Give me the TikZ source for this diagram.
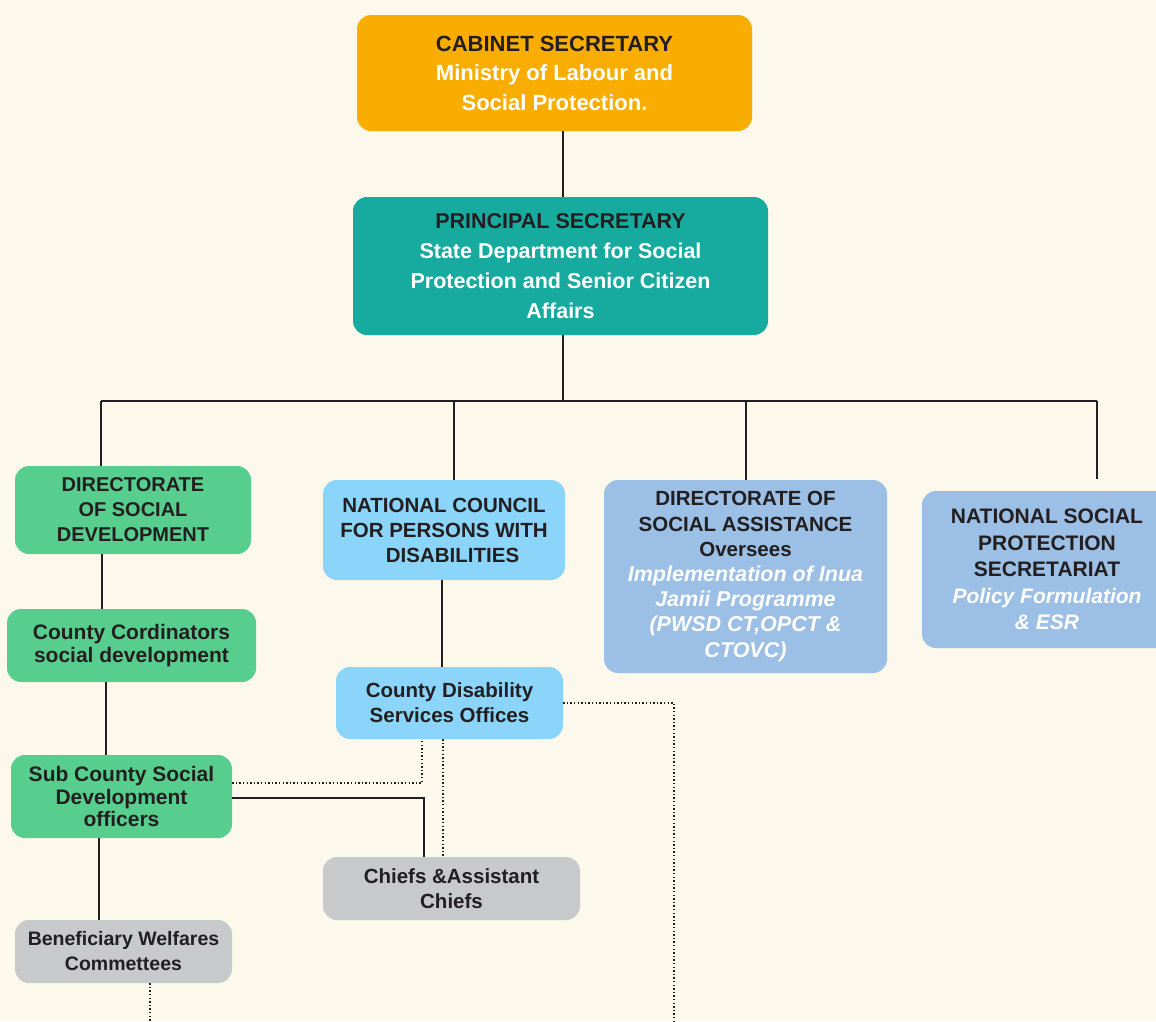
\documentclass[tikz,border=0pt]{standalone}
\usepackage{fontspec}
\setmainfont{Liberation Sans}
\definecolor{bg}{HTML}{FDF8EC}
\definecolor{ink}{HTML}{231F20}
\definecolor{orng}{HTML}{F9AD00}
\definecolor{teal}{HTML}{17AB9F}
\definecolor{grn}{HTML}{57CE8D}
\definecolor{lblue}{HTML}{8BD4FA}
\definecolor{sblue}{HTML}{9BBFE5}
\definecolor{gry}{HTML}{C8C9CB}
\begin{document}
\begin{tikzpicture}[x=1pt,y=-1pt,
  box/.style={rounded corners=14pt, inner sep=0pt, align=center, text=ink},
  conn/.style={draw=ink, line width=2pt},
  dotl/.style={draw=ink, line width=2pt, dash pattern=on 1.4pt off 2.2pt}]
\fill[bg] (0,0) rectangle (1156,1021);
\clip (0,0) rectangle (1156,1021);
% top boxes
\node[box, fill=orng, minimum width=395pt, minimum height=116pt,
  font={\bfseries\fontsize{22}{29.5}\selectfont}] (cab) at (554.5,73)
  {CABINET SECRETARY\\ \textcolor{white}{Ministry of Labour and}\\ \textcolor{white}{Social Protection.}};
\node[box, fill=teal, minimum width=415pt, minimum height=138pt,
  font={\bfseries\fontsize{21.5}{30}\selectfont}] (ps) at (560.5,266)
  {PRINCIPAL SECRETARY\\ \textcolor{white}{State Department for Social}\\ \textcolor{white}{Protection and Senior Citizen}\\ \textcolor{white}{Affairs}};
% second level
\node[box, fill=grn, minimum width=236pt, minimum height=88pt,
  font={\bfseries\fontsize{20}{25}\selectfont}] (dsd) at (133,510)
  {DIRECTORATE\\ OF SOCIAL\\ DEVELOPMENT};
\node[box, fill=lblue, minimum width=242pt, minimum height=100pt,
  font={\bfseries\fontsize{20.5}{25}\selectfont}] (ncpwd) at (444,530)
  {NATIONAL COUNCIL\\ FOR PERSONS WITH\\ \ \ \ DISABILITIES};
\node[box, fill=sblue, minimum width=283pt, minimum height=193pt,
  font={\bfseries\fontsize{20.5}{25.2}\selectfont}] (dsa) at (745.5,576.5)
  {DIRECTORATE OF\\ SOCIAL ASSISTANCE\\ Oversees\\
   \textcolor{white}{\fontsize{21.5}{25.2}\selectfont\itshape Implementation of Inua}\\ \textcolor{white}{\fontsize{21.5}{25.2}\selectfont\itshape Jamii Programme}\\
   \textcolor{white}{\fontsize{21.5}{25.2}\selectfont\itshape (PWSD CT,OPCT \&}\\ \textcolor{white}{\fontsize{21.5}{25.2}\selectfont\itshape CTOVC)}};
\node[box, fill=sblue, minimum width=250pt, minimum height=157pt,
  font={\bfseries\fontsize{21}{26.5}\selectfont}] (nsps) at (1047,569.5)
  {NATIONAL SOCIAL\\ PROTECTION\\ SECRETARIAT\\
   \textcolor{white}{\itshape Policy Formulation}\\ \textcolor{white}{\itshape \& ESR}};
% lower left
\node[box, fill=grn, minimum width=249pt, minimum height=73pt,
  font={\bfseries\fontsize{21}{23.5}\selectfont}] (cc) at (131.5,645.5)
  {County Cordinators\\ social development};
\node[box, fill=grn, minimum width=221pt, minimum height=83pt,
  font={\bfseries\fontsize{21}{22.5}\selectfont}] (scs) at (121.5,796.5)
  {Sub County Social\\ Development\\ officers};
\node[box, fill=gry, minimum width=217pt, minimum height=63pt,
  font={\bfseries\fontsize{19.5}{25}\selectfont}] (ben) at (123.5,951.5)
  {Beneficiary Welfares\\ Commettees};
\node[box, fill=lblue, minimum width=227pt, minimum height=72pt,
  font={\bfseries\fontsize{20.5}{25}\selectfont}] (cdso) at (449.5,703)
  {County Disability\\ Services Offices};
\node[box, fill=gry, minimum width=257pt, minimum height=63pt,
  font={\bfseries\fontsize{20.5}{25}\selectfont}] (chiefs) at (451.5,888.5)
  {Chiefs \&Assistant\\ Chiefs};
% free ends
\coordinate (busL) at (101,401);
\coordinate (busR) at (1097,401);
\coordinate (bot1) at (150,1021);
\coordinate (bot2) at (674,1021);
% solid connectors
\draw[conn] ([xshift=2.5pt]ps.north) -- ([xshift=2.5pt]ps.north |- cab.south);
\draw[conn] ([xshift=2.5pt]ps.south) -- ([xshift=2.5pt]ps.south |- busL);
\draw[conn] (busL) -- (busR);
\draw[conn] (busL) -- (busL |- dsd.north);
\draw[conn] ([xshift=10pt]ncpwd.north) -- ([xshift=10pt]ncpwd.north |- busL);
\draw[conn] ([xshift=0.5pt]dsa.north) -- ([xshift=0.5pt]dsa.north |- busL);
\draw[conn] ([xshift=50pt,yshift=12pt]nsps.north) -- ([xshift=50pt]nsps.north |- busL);
\draw[conn] ([xshift=-31pt]dsd.south) -- ([xshift=-31pt]dsd.south |- cc.north);
\draw[conn] ([xshift=-25.5pt]cc.south) -- ([xshift=-25.5pt]cc.south |- scs.north);
\draw[conn] ([xshift=-22.5pt]scs.south) -- ([xshift=-22.5pt]scs.south |- ben.north);
\draw[conn] ([xshift=-2pt]ncpwd.south) -- ([xshift=-2pt]ncpwd.south |- cdso.north);
\draw[conn] ([yshift=-1.5pt]scs.east) -| ([xshift=-27.5pt]chiefs.north);
% dotted connectors
\draw[dotl] ([xshift=26.5pt]ben.south) -- (bot1);
\draw[dotl] ([yshift=13.5pt]scs.east) -| ([xshift=-27.5pt]cdso.south);
\draw[dotl] ([xshift=-6.5pt]cdso.south) -- ([xshift=-6.5pt]cdso.south |- chiefs.north);
\draw[dotl] (cdso.east) -| (bot2);
\end{tikzpicture}
\end{document}
